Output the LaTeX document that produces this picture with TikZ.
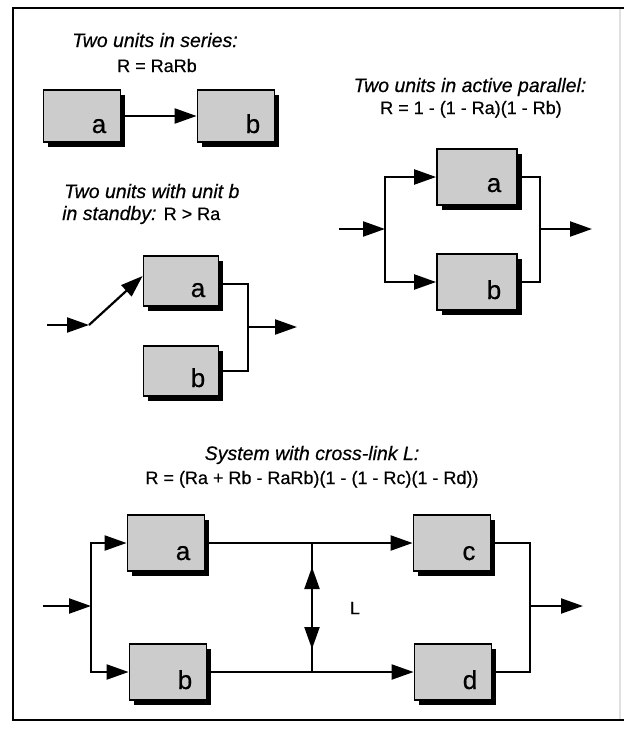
\documentclass[tikz,border=0pt]{standalone}
\usepackage{fontspec}
\setmainfont{Liberation Sans}[FakeBold=0.5]
\usetikzlibrary{arrows.meta,shadows,calc}
\begin{document}
\begin{tikzpicture}[x=1pt,y=-1pt,
  box/.style={draw=black, line width=1.8pt, fill=black!20, inner sep=0pt,
    minimum width=77pt, minimum height=54pt,
    drop shadow={shadow xshift=4.5pt, shadow yshift=-4.5pt, fill=black, opacity=1}},
  lbl/.style={font=\fontsize{26}{30}\selectfont, anchor=base, inner sep=0pt},
  ttl/.style={font=\fontsize{19.5}{23}\selectfont\itshape, anchor=base, inner sep=0pt},
  frm/.style={font=\fontsize{18}{22}\selectfont, anchor=base, inner sep=0pt},
  conn/.style={line width=2.2pt},
  arr/.style={conn, -{Triangle[length=22pt,width=15pt]}},
]
\useasboundingbox (0,0) rectangle (624,729);
% frame
\draw[line width=2.5pt] (624,8) -- (13,8) -- (13,720) -- (624,720);
\draw[black!12, line width=1.5pt] (620,9) -- (620,719);

% ---------- series ----------
\node[ttl] (t1) at (155,47) {Two units in series:};
\node[frm] (f1) at (157,72) {R = RaRb};
\node[box, minimum height=52pt] (sa) at (82,116) {};
\node[box, minimum height=52pt] (sb) at (236,116) {};
\node[lbl] (sal) at ([shift={(17,17)}]sa.center) {a};
\node[lbl] (sbl) at ([shift={(17,17)}]sb.center) {b};
\draw[arr] (sa) -- (sb);

% ---------- active parallel ----------
\node[ttl] (t2) at (470,92) {Two units in active parallel:};
\node[frm] (f2) at (471,114) {R = 1 - (1 - Ra)(1 - Rb)};
\node[box, minimum width=80pt, minimum height=56pt] (pa) at (477,177) {};
\node[box, minimum width=80pt, minimum height=56pt] (pb) at (477,282) {};
\node[lbl] (pal) at ([shift={(17,15)}]pa.center) {a};
\node[lbl] (pbl) at ([shift={(17,17)}]pb.center) {b};
\coordinate (pin) at (339,229);
\coordinate (pj) at (385,229);
\coordinate (po) at (540,229);
\coordinate (pout) at (592,229);
\draw[arr] (pin) -- (pj);
\draw[arr] (pj) |- (pa.west);
\draw[arr] (pj) |- (pb.west);
\draw[conn] (pa.east) -| (po) |- (pb.east);
\draw[arr] (po) -- (pout);

% ---------- standby ----------
\node[ttl, anchor=base west] (t3) at (64,198) {Two units with unit b};
\node[ttl, anchor=base west] (f3) at (62,220) {in standby: {\upshape\fontsize{18}{22}\selectfont R > Ra}};
\node[box, minimum width=75pt, minimum height=50pt] (wa) at (181,281) {};
\node[box, minimum width=75pt, minimum height=50pt] (wb) at (181,371) {};
\node[lbl] (wal) at ([shift={(17,16)}]wa.center) {a};
\node[lbl] (wbl) at ([shift={(17,16)}]wb.center) {b};
\coordinate (win) at (47,325);
\coordinate (wk) at (89,325);
\coordinate (wo) at (248,327);
\coordinate (wout) at (297,327);
\draw[arr] (win) -- (wk);
\draw[arr] (wk) -- ([yshift=5pt]wa.west);
\draw[conn] ([yshift=-3pt]wa.east) -| (wo) |- (wb.east);
\draw[arr] (wo) -- (wout);

% ---------- cross-link ----------
\node[ttl] (t4) at (312,460) {System with cross-link L:};
\node[frm] (f4) at (312,484) {R = (Ra + Rb - RaRb)(1 - (1 - Rc)(1 - Rd))};
\node[box, minimum height=56pt] (xa) at (166,543) {};
\node[box, minimum height=56pt] (xb) at (168,672) {};
\node[box, minimum height=56pt] (xc) at (452,543) {};
\node[box, minimum height=56pt] (xd) at (453,672) {};
\node[lbl] (xal) at ([shift={(17,17)}]xa.center) {a};
\node[lbl] (xbl) at ([shift={(17,17)}]xb.center) {b};
\node[lbl] (xcl) at ([shift={(17,17)}]xc.center) {c};
\node[lbl] (xdl) at ([shift={(17,17)}]xd.center) {d};
\coordinate (xin) at (43,606);
\coordinate (xj) at (91,606);
\draw[arr] (xin) -- (xj);
\draw[arr] (xj) |- (xa.west);
\draw[arr] (xj) |- (xb.west);
\draw[arr] (xa) -- (xc);
\draw[arr] (xb) -- (xd);
\coordinate (lt) at (312,543);
\coordinate (lb) at (312,672);
\coordinate (lu1) at (312,594);
\coordinate (lu2) at (312,567);
\coordinate (ld1) at (312,622);
\coordinate (ld2) at (312,649);
\draw[conn] (lt) -- (lb);
\draw[arr] (lu1) -- (lu2);
\draw[arr] (ld1) -- (ld2);
\node[frm, anchor=center] (lL) at (355,608) {L};
\coordinate (xo) at (530,606);
\coordinate (xout) at (583,606);
\draw[conn] (xc.east) -| (xo) |- (xd.east);
\draw[arr] (xo) -- (xout);
\end{tikzpicture}
\end{document}
